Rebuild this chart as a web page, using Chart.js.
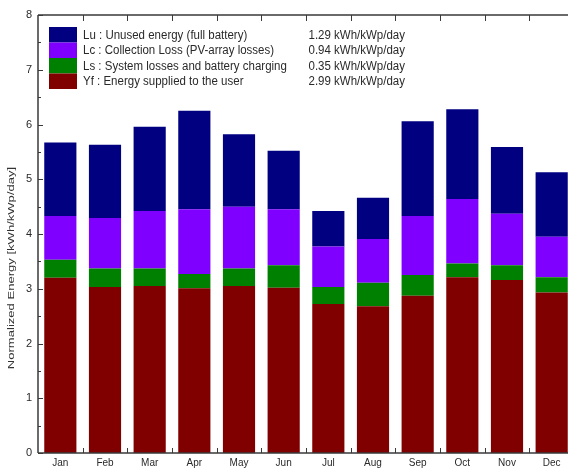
<!DOCTYPE html>
<html>
<head>
<meta charset="utf-8">
<script src="https://cdn.jsdelivr.net/npm/chart.js@4.4.1/dist/chart.umd.min.js"></script>
<style>
html,body{margin:0;padding:0;background:#fff;overflow:hidden;width:568px;height:469px;}
#wrap{position:absolute;left:0;top:0;width:576px;height:469px;}
</style>
</head>
<body>
<div id="wrap"><canvas id="c" width="576" height="469"></canvas></div>
<script>
const months = ['Jan','Feb','Mar','Apr','May','Jun','Jul','Aug','Sep','Oct','Nov','Dec'];
const Yf = [3.20,3.03,3.05,3.01,3.05,3.02,2.72,2.68,2.87,3.21,3.16,2.93];
const Ls = [0.33,0.34,0.32,0.26,0.32,0.41,0.31,0.43,0.38,0.25,0.27,0.28];
const Lc = [0.80,0.92,1.05,1.18,1.13,1.02,0.74,0.80,1.08,1.18,0.94,0.74];
const Lu = [1.34,1.34,1.54,1.80,1.32,1.07,0.65,0.75,1.73,1.64,1.22,1.18];
const yTicks = [0,1,2,3,4,5,6,7,8];
const legendLabels = ['Lu : Unused energy (full battery)','Lc : Collection Loss (PV-array losses)','Ls : System losses and battery charging','Yf : Energy supplied to the user'];
const legendValues = ['1.29 kWh/kWp/day','0.94 kWh/kWp/day','0.35 kWh/kWp/day','2.99 kWh/kWp/day'];
const yTitle = 'Normalized Energy [kWh/kWp/day]';

const colLu = '#000080', colLc = '#8000ff', colLs = '#008000', colYf = '#800000';
const legendColors = [colLu, colLc, colLs, colYf];
const axisCol = '#3a3a3a';
const FONT = '"Liberation Sans", Arial, sans-serif';

const decor = {
  id: 'decor',
  afterDraw(chart) {
    const ctx = chart.ctx, a = chart.chartArea;
    const ys = chart.scales.y;
    ctx.save();
    ctx.strokeStyle = axisCol;
    ctx.lineWidth = 1.5;
    ctx.beginPath();
    ctx.moveTo(a.left, a.top); ctx.lineTo(a.right, a.top);
    ctx.moveTo(a.left, a.top); ctx.lineTo(a.left, a.bottom);
    ctx.moveTo(a.left, a.bottom); ctx.lineTo(a.right, a.bottom);
    ctx.stroke();
    ctx.lineWidth = 1;
    ctx.beginPath();
    for (let v = 0; v <= 8; v += 0.5) {
      const y = Math.round(ys.getPixelForValue(v)) + 0.5;
      const len = (v % 1 === 0) ? 5 : 3;
      ctx.moveTo(a.left, y); ctx.lineTo(a.left + len, y);
    }
    const n = months.length;
    const w = (a.right - a.left) / n;
    for (let i = 1; i < n; i++) {
      const x = Math.round(a.left + i * w) + 0.5;
      ctx.moveTo(x, a.bottom); ctx.lineTo(x, a.bottom - 5);
      ctx.moveTo(x, a.top); ctx.lineTo(x, a.top + 6);
    }
    ctx.stroke();

    // legend
    const sx = 49, sy = 27, sw = 28, sh = 15.5;
    for (let i = 0; i < legendLabels.length; i++) {
      ctx.fillStyle = legendColors[i];
      ctx.fillRect(sx, sy + i * sh, sw, sh);
    }
    ctx.fillStyle = '#2a2a2a';
    ctx.font = '11.5px ' + FONT;
    ctx.textBaseline = 'middle';
    for (let i = 0; i < legendLabels.length; i++) {
      const yc = sy + i * sh + sh / 2 + 0.5;
      ctx.save();
      ctx.translate(83, yc);
      ctx.scale(1, 1.05);
      ctx.textAlign = 'left';
      ctx.fillText(legendLabels[i], 0, 0);
      ctx.restore();
      ctx.save();
      ctx.translate(405, yc);
      ctx.scale(1, 1.05);
      ctx.textAlign = 'right';
      ctx.fillText(legendValues[i], 0, 0);
      ctx.restore();
    }

    // y title
    ctx.save();
    ctx.translate(12, 268);
    ctx.rotate(-Math.PI / 2);
    ctx.scale(1.45, 0.95);
    ctx.textAlign = 'center';
    ctx.textBaseline = 'middle';
    ctx.font = '9px ' + FONT;
    ctx.fillStyle = '#333';
    ctx.fillText(yTitle, 0, 0);
    ctx.restore();
    ctx.restore();
  }
};

new Chart(document.getElementById('c'), {
  type: 'bar',
  data: {
    labels: months,
    datasets: [
      {label: 'Yf', data: Yf, backgroundColor: colYf},
      {label: 'Ls', data: Ls, backgroundColor: colLs},
      {label: 'Lc', data: Lc, backgroundColor: colLc},
      {label: 'Lu', data: Lu, backgroundColor: colLu}
    ]
  },
  options: {
    responsive: false,
    animation: false,
    devicePixelRatio: 1,
    layout: {padding: {top: 15, right: 2, left: 0, bottom: 0}},
    datasets: {bar: {barPercentage: 0.72, categoryPercentage: 1.0, borderWidth: 0}},
    plugins: {legend: {display: false}, tooltip: {enabled: false}},
    scales: {
      x: {
        stacked: true,
        grid: {display: false, drawTicks: false},
        border: {display: false},
        ticks: {color: '#2a2a2a', font: {family: FONT, size: 10}, padding: 4, maxRotation: 0, autoSkip: false},
        afterFit(s) { s.height = 16; }
      },
      y: {
        stacked: true,
        min: 0, max: 8,
        afterBuildTicks(s) { s.ticks = yTicks.map(v => ({value: v})); },
        grid: {display: false, drawTicks: false},
        border: {display: false},
        ticks: {color: '#2a2a2a', font: {family: FONT, size: 11}, padding: 6},
        afterFit(s) { s.width = 38; }
      }
    }
  },
  plugins: [decor]
});
</script>
</body>
</html>
